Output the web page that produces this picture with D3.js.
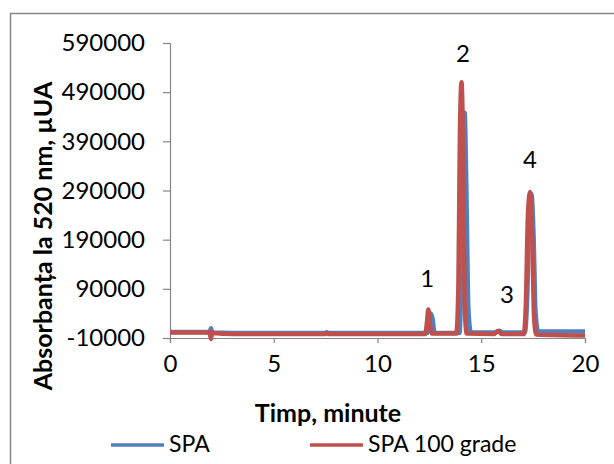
<!DOCTYPE html>
<html>
<head>
<meta charset="utf-8">
<script src="https://cdn.jsdelivr.net/npm/d3@7"></script>
<style>
  body { margin: 0; background: #fff; }
  svg { display: block; font-family: Lato, "Open Sans", sans-serif; }
</style>
</head>
<body>
<svg id="chart" width="614" height="464"></svg>
<script>
// axis ticks
var xTicks = [0, 5, 10, 15, 20];
var yTicks = [-10000, 90000, 190000, 290000, 390000, 490000, 590000];

// SPA (blue)
var timeSpa = [0, 1.9, 1.98, 2.02, 2.1, 3, 7.45, 7.55, 7.65, 12.4, 12.5, 12.57, 12.65, 12.75, 13.95, 14.05, 14.12, 14.2, 14.28, 14.38, 14.5, 15.7, 15.88, 16.05, 17.1, 17.22, 17.32, 17.42, 17.52, 17.62, 17.75, 20];
var valSpa = [2000, 2000, 10000, 2000, 1000, 0, 0, 1500, 0, 0, 20000, 40000, 30000, 0, 0, 150000, 380000, 448000, 300000, 50000, 1000, 1000, 5000, 1000, 1000, 80000, 250000, 283000, 200000, 40000, 3000, 3000];

// SPA 100 grade (red)
var timeSpa100 = [0, 1.9, 1.98, 2.02, 2.1, 3, 7.45, 7.55, 7.65, 12.3, 12.38, 12.45, 12.52, 12.62, 13.8, 13.9, 13.97, 14.05, 14.13, 14.2, 14.3, 15.6, 15.8, 16.0, 17.05, 17.15, 17.25, 17.35, 17.45, 17.55, 17.65, 20];
var valSpa100 = [1000, 1000, -12000, 3000, 0, -2000, -2000, 0, -2000, -2000, 20000, 48000, 20000, -1000, -1000, 100000, 400000, 510000, 350000, 60000, -1000, -2000, 4000, -2000, -2000, 60000, 240000, 287000, 200000, 30000, -3000, -5000];

// peak labels
var peakNames = ["1", "2", "3", "4"];
var peakTimes = [12.39, 14.12, 16.24, 17.35];
var peakVals = [93000, 551000, 61000, 336000];

var seriesNames = ["SPA", "SPA 100 grade"];
var seriesColors = ["#4F81BD", "#C0504D"];

var svg = d3.select("#chart");

// outer frame
svg.append("rect").attr("x", 10.5).attr("y", 13.5).attr("width", 620).attr("height", 470)
  .attr("fill", "none").attr("stroke", "#868686").attr("stroke-width", 1.5);

var x = d3.scaleLinear().domain([0, 20]).range([170, 585]);
var y = d3.scaleLinear().domain([-10000, 590000]).range([338, 43]);

// y axis
var yAxis = svg.append("g").attr("transform", "translate(170,0)")
  .call(d3.axisLeft(y).tickValues(yTicks).tickSize(7).tickPadding(18)
    .tickFormat(function(d) { return String(d); }));
// x axis
var xAxis = svg.append("g").attr("transform", "translate(0,338)")
  .call(d3.axisBottom(x).tickValues(xTicks).tickSize(5).tickPadding(12));

[yAxis, xAxis].forEach(function(g) {
  g.select(".domain").attr("stroke", "#868686").attr("stroke-width", 1.2);
  g.selectAll(".tick line").attr("stroke", "#868686").attr("stroke-width", 1.2);
  g.selectAll(".tick text").attr("fill", "#000").style("font-size", "24px").style("font-family", "Lato, sans-serif");
});

var line = d3.line().x(function(d) { return x(d[0]); }).y(function(d) { return y(d[1]); })
  .curve(d3.curveMonotoneX);

var dataSpa = d3.zip(timeSpa, valSpa);
var dataSpa100 = d3.zip(timeSpa100, valSpa100);

svg.append("path").datum(dataSpa).attr("d", line)
  .attr("fill", "none").attr("stroke", seriesColors[0]).attr("stroke-width", 4.5)
  .attr("stroke-linejoin", "round");
svg.append("path").datum(dataSpa100).attr("d", line)
  .attr("fill", "none").attr("stroke", seriesColors[1]).attr("stroke-width", 4.5)
  .attr("stroke-linejoin", "round");

// peak numbers
svg.selectAll(".peak").data(peakNames).enter().append("text")
  .attr("class", "peak")
  .attr("x", function(d, i) { return x(peakTimes[i]); })
  .attr("y", function(d, i) { return y(peakVals[i]); })
  .attr("text-anchor", "middle")
  .style("font-size", "24px")
  .text(function(d) { return d; });

// axis titles
svg.append("text").attr("x", 328).attr("y", 422).attr("text-anchor", "middle")
  .style("font-size", "25px").style("font-weight", "bold").text("Timp, minute");
svg.append("text").attr("transform", "translate(52,236) rotate(-90)").attr("text-anchor", "middle")
  .style("font-size", "25px").style("font-weight", "bold").text("Absorbanța la 520 nm, µUA");

// legend
var legendX = [111, 310];
var legend = svg.selectAll(".leg").data(seriesNames).enter().append("g")
  .attr("class", "leg")
  .attr("transform", function(d, i) { return "translate(" + legendX[i] + ",445)"; });
legend.append("line").attr("x1", 0).attr("x2", 53).attr("y1", 0).attr("y2", 0)
  .attr("stroke", function(d, i) { return seriesColors[i]; }).attr("stroke-width", 3.5);
legend.append("text").attr("x", 58).attr("y", 7).style("font-size", "23px").text(function(d) { return d; });
</script>
</body>
</html>
